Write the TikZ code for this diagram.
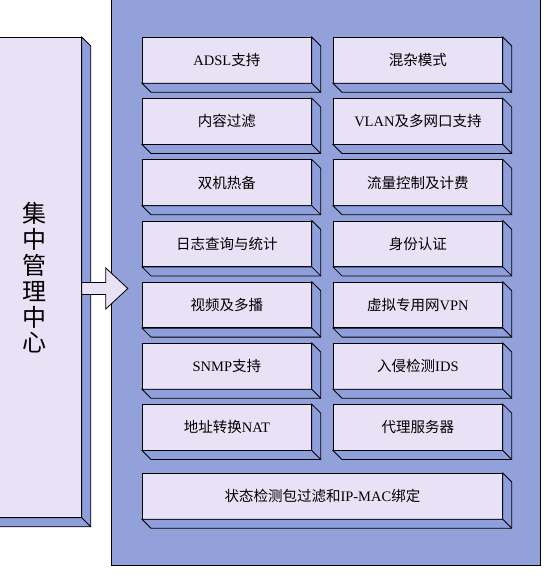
\documentclass[tikz,border=0pt]{standalone}
\usepackage{fontspec}
\setmainfont{Liberation Serif}
\newfontfamily\cjk{Noto Sans CJK SC}
\newcommand\lt[1]{{\rmfamily #1}}
\definecolor{faceC}{HTML}{E9E1F6}
\definecolor{panelC}{HTML}{93A1DA}
\definecolor{sideC}{HTML}{8E9FDB}
\tikzset{
  face/.style={draw=black, line width=0.8pt, fill=faceC, inner sep=0pt,
    minimum height=45.5pt, font=\cjk\fontsize{14.5}{16}\selectfont},
  side/.style={draw=black, line width=0.8pt, fill=sideC, line join=miter},
  panel/.style={draw=black, line width=0.9pt, fill=panelC},
}
\newcommand\bbox[5]{%
  \node[face, minimum width=#4pt, anchor=north west] (#1) at (#2,#3) {#5};
  \filldraw[side] (#1.north east) -- ++(9,9) -- ([shift={(9,9)}]#1.south east)
    -- ([shift={(9,9)}]#1.south west) -- (#1.south west) -- (#1.south east) -- cycle;
  \draw[side] (#1.south east) -- ++(9,9);
}
\begin{document}
\begin{tikzpicture}[x=1pt,y=-1pt]
\useasboundingbox (0,0) rectangle (553,576);
\clip (0,0) rectangle (553,576);
\fill[white] (0,0) rectangle (553,576);
% panel
\node[panel, minimum width=429pt, minimum height=575pt, anchor=north west, inner sep=0pt] (pan) at (111,-10) {};
% left box
\node[face, minimum width=95pt, minimum height=480pt, anchor=north west] (ctr) at (-14,37) {};
\filldraw[side] (ctr.north east) -- ++(9,9) -- ([shift={(9,9)}]ctr.south east)
  -- ([shift={(9,9)}]ctr.south west) -- (ctr.south west) -- (ctr.south east) -- cycle;
\draw[side] (ctr.south east) -- ++(9,9);
\node[font=\cjk\fontsize{24}{25.8}\selectfont, align=center, inner sep=0pt] (ctrtext) at (34,278) {集\\中\\管\\理\\中\\心};
% boxes
\bbox{a1}{142}{37}{169}{\lt{ADSL}支持}
\bbox{b1}{333}{37}{169}{混杂模式}
\bbox{a2}{142}{98.2}{169}{内容过滤}
\bbox{b2}{333}{98.2}{169}{\lt{VLAN}及多网口支持}
\bbox{a3}{142}{159.4}{169}{双机热备}
\bbox{b3}{333}{159.4}{169}{流量控制及计费}
\bbox{a4}{142}{220.6}{169}{日志查询与统计}
\bbox{b4}{333}{220.6}{169}{身份认证}
\bbox{a5}{142}{281.8}{169}{视频及多播}
\bbox{b5}{333}{281.8}{169}{虚拟专用网\lt{VPN}}
\bbox{a6}{142}{343}{169}{\lt{SNMP}支持}
\bbox{b6}{333}{343}{169}{入侵检测\lt{IDS}}
\bbox{a7}{142}{404.2}{169}{地址转换\lt{NAT}}
\bbox{b7}{333}{404.2}{169}{代理服务器}
\bbox{w8}{142}{473}{360}{状态检测包过滤和\lt{IP-MAC}绑定}
% arrow
\coordinate (as) at (ctr.east |- 0,276);
\filldraw[fill=faceC, draw=black, line width=0.8pt, line join=miter]
  ([yshift=-6.5pt]as) -- ++(24,0) -- ++(0,-14.5) -- ++(22,20.5) -- ++(-22,20.5)
  -- ++(0,-14.5) -- ++(-24,0) -- cycle;
\end{tikzpicture}
\end{document}
